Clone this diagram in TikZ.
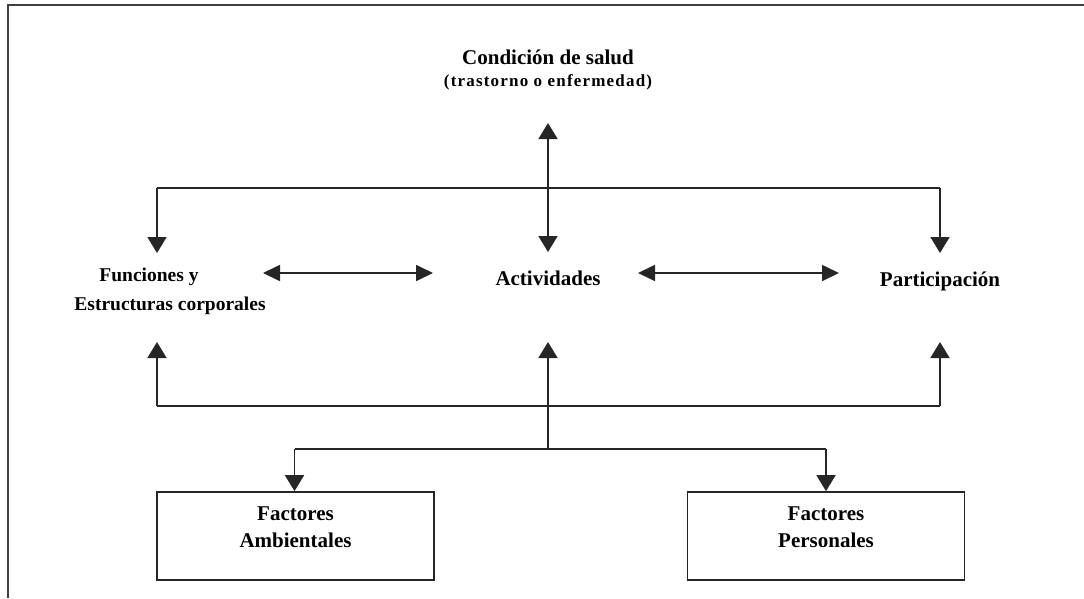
\documentclass[tikz,border=0pt]{standalone}
\usepackage{fontspec}
\setmainfont{Liberation Serif}
\usetikzlibrary{arrows.meta}
\begin{document}
\begin{tikzpicture}[x=1pt,y=-1pt,
  ln/.style={line width=1.7pt,draw=black!85},
  arr/.style={ln,-{Triangle[length=16pt,width=19pt]}},
  darr/.style={ln,{Triangle[length=17pt,width=16pt]}-{Triangle[length=17pt,width=16pt]}},
  vdarr/.style={ln,{Triangle[length=16pt,width=19pt]}-{Triangle[length=16pt,width=19pt]}},
  lbl/.style={font=\fontsize{21}{29}\selectfont\bfseries,align=center,inner sep=0pt,text=black},
  boxlbl/.style={font=\fontsize{21}{27}\selectfont\bfseries,align=center,inner sep=0pt,text=black},
  frame/.style={draw=black!85,line width=1.7pt,minimum width=277pt,minimum height=88pt,inner sep=0pt}]
\useasboundingbox (0,0) rectangle (1084,598);
\draw[line width=1.8pt,draw=black!75] (1084,5) -- (8,5) -- (8,598);

% labels
\node[lbl,anchor=base] (cond) at (548,64) {Condición de salud};
\node[anchor=base,inner sep=0pt,font=\fontsize{17}{20}\selectfont\bfseries\addfontfeature{LetterSpace=7}] (tras) at (548,86) {(trastorno o enfermedad)};
\node[lbl,font=\fontsize{19.5}{29}\selectfont\bfseries] (fun) at (170,291) {Funciones y\hspace*{42pt}\\Estructuras corporales};
\node[lbl,anchor=base] (act) at (548,285) {Actividades};
\node[lbl,anchor=base] (par) at (940,286) {Participación};

% boxes
\node[frame] (fabox) at (295.5,536) {};
\node[frame] (fpbox) at (826,536) {};
\node[boxlbl] (fa) at (295.5,527.5) {Factores\\Ambientales};
\node[boxlbl] (fp) at (826,527.5) {Factores\\Personales};

% coordinates
\coordinate (ct) at (548,123);
\coordinate (cb) at (548,252);
\coordinate (tl) at (157,188);
\coordinate (tr) at (940,188);
\coordinate (fl) at (157,253);
\coordinate (pl) at (940,253);
\coordinate (la) at (263,273);
\coordinate (lb) at (433,273);
\coordinate (ra) at (638,273);
\coordinate (rb) at (839,273);
\coordinate (bl) at (157,406);
\coordinate (br) at (940,406);
\coordinate (fu) at (157,342);
\coordinate (pu) at (940,342);
\coordinate (au) at (548,342);
\coordinate (am) at (548,449);
\coordinate (jl) at (294.5,449);
\coordinate (jr) at (826,449);

% connectors
\draw[vdarr] (ct) -- (cb);
\draw[ln] (tl) -- (tr);
\draw[arr] (tl) -- (fl);
\draw[arr] (tr) -- (pl);
\draw[darr] (la) -- (lb);
\draw[darr] (ra) -- (rb);
\draw[arr] (bl) -- (fu);
\draw[arr] (br) -- (pu);
\draw[ln] (bl) -- (br);
\draw[arr] (am) -- (au);
\draw[ln] (jl) -- (jr);
\draw[arr] (jl) -- (fabox.north -| jl);
\draw[arr] (jr) -- (fpbox.north);
\end{tikzpicture}
\end{document}
